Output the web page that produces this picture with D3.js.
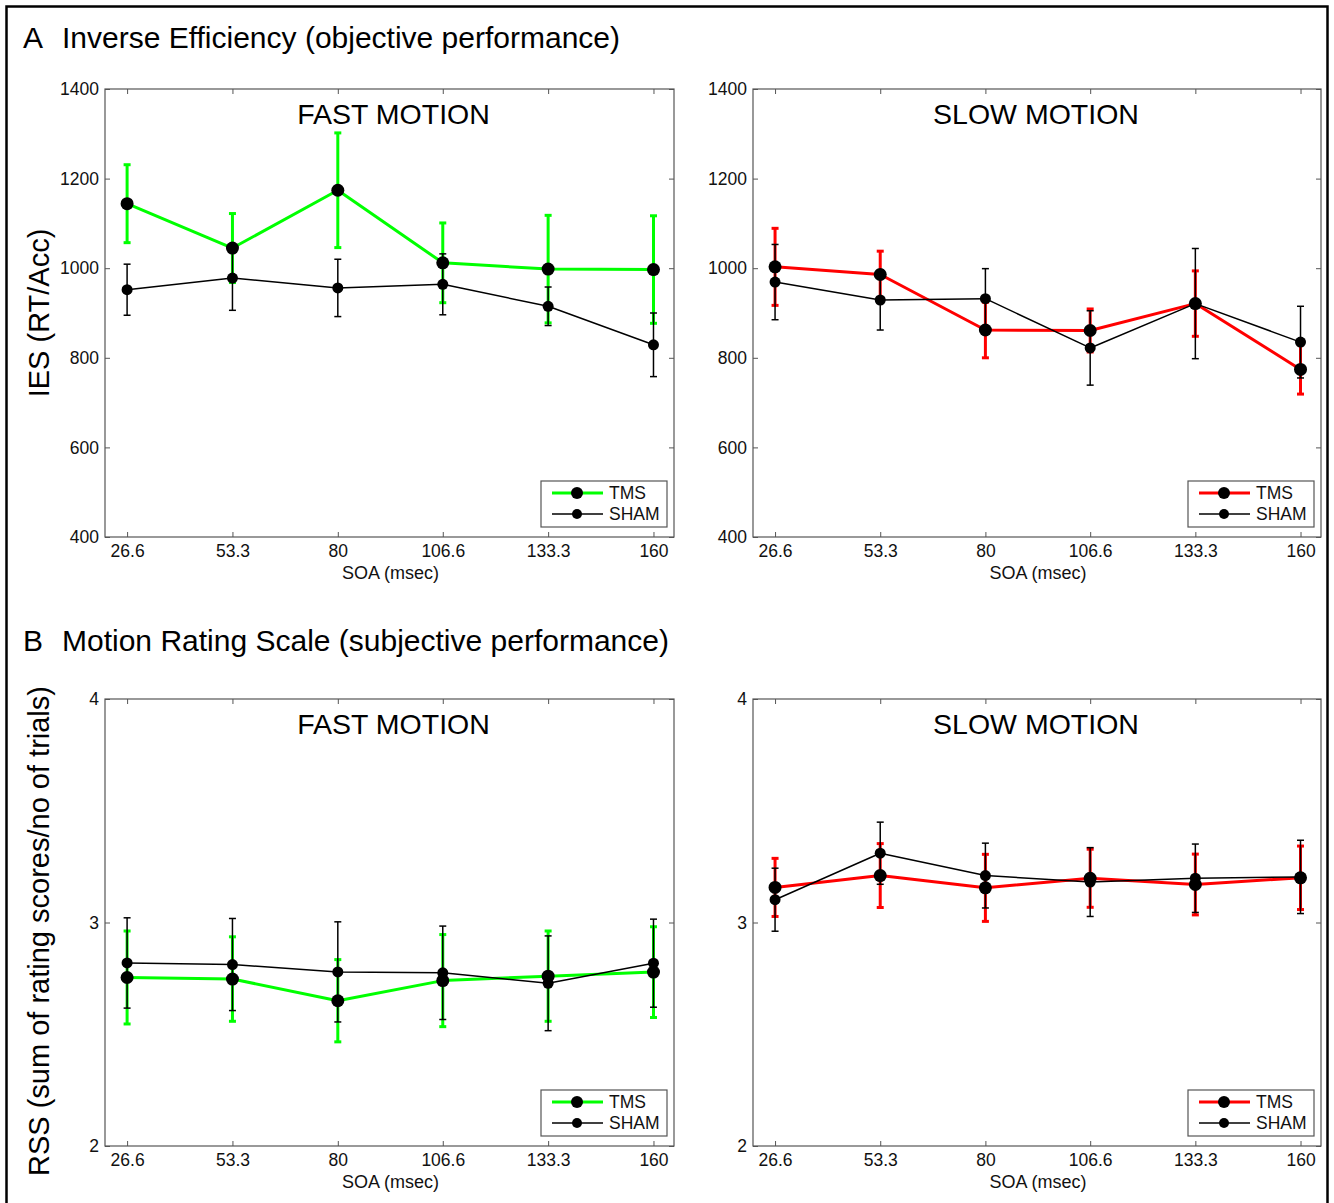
<!DOCTYPE html>
<html>
<head>
<meta charset="utf-8">
<script src="https://cdn.jsdelivr.net/npm/d3@7"></script>
<style>
  html, body { margin: 0; padding: 0; background: #fff; }
  svg { display: block; font-family: "Liberation Sans", Arial, Helvetica, sans-serif; }
</style>
</head>
<body>
<svg id="fig" width="1334" height="1203"></svg>
<script>
// Stimulus onset asynchrony conditions (msec)
const soa = [26.6, 53.3, 80, 106.6, 133.3, 160];
const soaLabels = ["26.6", "53.3", "80", "106.6", "133.3", "160"];

// Inverse efficiency (RT/Acc), means and error half-widths
const iesFastTms      = [1144, 1045, 1174, 1012, 998, 997];
const iesFastTmsErr   = [87, 77, 128, 89, 120, 120];
const iesFastSham     = [952, 978, 956, 964, 915, 829];
const iesFastShamErr  = [57, 72, 64, 68, 43, 71];
const iesSlowTms      = [1003, 986, 862, 861, 921, 774];
const iesSlowTmsErr   = [86, 52, 62, 48, 73, 55];
const iesSlowSham     = [969, 929, 932, 822, 921, 835];
const iesSlowShamErr  = [84, 67, 67, 83, 123, 80];

// Motion rating scale scores, means and error half-widths
const rssFastTms      = [2.754, 2.747, 2.650, 2.740, 2.760, 2.778];
const rssFastTmsErr   = [0.208, 0.189, 0.184, 0.206, 0.202, 0.203];
const rssFastSham     = [2.819, 2.812, 2.779, 2.775, 2.728, 2.818];
const rssFastShamErr  = [0.202, 0.206, 0.224, 0.209, 0.212, 0.197];
const rssSlowTms      = [3.157, 3.210, 3.155, 3.198, 3.170, 3.200];
const rssSlowTmsErr   = [0.130, 0.143, 0.150, 0.130, 0.136, 0.142];
const rssSlowSham     = [3.102, 3.310, 3.210, 3.181, 3.198, 3.204];
const rssSlowShamErr  = [0.141, 0.139, 0.145, 0.154, 0.153, 0.164];

// Axis ticks
const iesTicks = [400, 600, 800, 1000, 1200, 1400];
const rssTicks = [2, 3, 4];

// Series labels and colours
const seriesNames = ["TMS", "SHAM"];
const fastColor = "#00ff00";
const slowColor = "#ff0000";
const shamColor = "#000000";

const svg = d3.select("#fig");
const FONT = "'Liberation Sans', Arial, Helvetica, sans-serif";
const AXIS_GREY = "#555";

// Outer figure frame
svg.append("rect")
  .attr("x", 6.5).attr("y", 6.5)
  .attr("width", 1321).attr("height", 1220)
  .attr("fill", "none").attr("stroke", "#000").attr("stroke-width", 2.5);

// Section headings
function heading(letter, text, baseline) {
  svg.append("text").attr("x", 23).attr("y", baseline)
    .attr("font-size", 30).attr("fill", "#000").text(letter);
  svg.append("text").attr("x", 62).attr("y", baseline)
    .attr("font-size", 30).attr("fill", "#000").text(text);
}
heading("A", "Inverse Efficiency (objective performance)", 48);
heading("B", "Motion Rating Scale (subjective performance)", 651);

// Rotated y-axis titles
function yTitle(text, cy) {
  svg.append("text")
    .attr("transform", `translate(49,${cy}) rotate(-90)`)
    .attr("text-anchor", "middle")
    .attr("font-size", 29).attr("fill", "#000").text(text);
}
yTitle("IES (RT/Acc)", 313);
yTitle("RSS (sum of rating scores/no of trials)", 931);

function zip(means, errs) {
  return soa.map((s, i) => ({ x: s, y: means[i], e: errs[i] }));
}

function panel(opts) {
  const { left, top, width, height, yDomain, yTicks, title, titleDx, series } = opts;
  const g = svg.append("g").attr("transform", `translate(${left},${top})`);
  const x = d3.scaleLinear().domain([21, 165.2]).range([0, width]);
  const y = d3.scaleLinear().domain(yDomain).range([height, 0]);

  // Axes box with inward ticks on all sides
  const tk = 5;
  const bottomAx = d3.axisBottom(x).tickValues(soa)
    .tickFormat((d, i) => soaLabels[i]).tickSizeInner(-tk).tickSizeOuter(0).tickPadding(8);
  const topAx = d3.axisTop(x).tickValues(soa).tickFormat("").tickSizeInner(-tk).tickSizeOuter(0);
  const leftAx = d3.axisLeft(y).tickValues(yTicks).tickFormat(d3.format("d"))
    .tickSizeInner(-tk).tickSizeOuter(0).tickPadding(6);
  const rightAx = d3.axisRight(y).tickValues(yTicks).tickFormat("").tickSizeInner(-tk).tickSizeOuter(0);

  const gb = g.append("g").attr("transform", `translate(0,${height})`).call(bottomAx);
  const gt = g.append("g").call(topAx);
  const gl = g.append("g").call(leftAx);
  const gr = g.append("g").attr("transform", `translate(${width},0)`).call(rightAx);
  [gb, gt, gl, gr].forEach(a => {
    a.select(".domain").remove();
    a.selectAll(".tick line").attr("stroke", AXIS_GREY).attr("stroke-width", 1);
    a.selectAll(".tick text").attr("font-family", FONT).attr("font-size", 17.5).attr("fill", "#111");
  });
  g.append("rect").attr("x", 0).attr("y", 0).attr("width", width).attr("height", height)
    .attr("fill", "none").attr("stroke", AXIS_GREY).attr("stroke-width", 1.2);

  // Panel title
  g.append("text").attr("x", width / 2 + titleDx).attr("y", 35)
    .attr("text-anchor", "middle").attr("font-size", 28.5).attr("fill", "#000").text(title);

  // x-axis title
  g.append("text").attr("x", width / 2 + 1).attr("y", height + 42)
    .attr("text-anchor", "middle").attr("font-size", 18).attr("fill", "#111").text("SOA (msec)");

  // Data series: error bars, connecting line, markers
  const line = d3.line().x(d => x(d.x)).y(d => y(d.y));
  series.forEach(s => {
    const sg = g.append("g");
    const cap = 3.5;
    const eb = sg.selectAll("g.eb").data(s.data).join("g");
    eb.append("line")
      .attr("x1", d => x(d.x)).attr("x2", d => x(d.x))
      .attr("y1", d => y(d.y - d.e)).attr("y2", d => y(d.y + d.e))
      .attr("stroke", s.color).attr("stroke-width", s.width);
    [1, -1].forEach(sign => {
      eb.append("line")
        .attr("x1", d => x(d.x) - cap).attr("x2", d => x(d.x) + cap)
        .attr("y1", d => y(d.y + sign * d.e)).attr("y2", d => y(d.y + sign * d.e))
        .attr("stroke", s.color).attr("stroke-width", s.width);
    });
    sg.append("path").datum(s.data).attr("d", line)
      .attr("fill", "none").attr("stroke", s.color).attr("stroke-width", s.width)
      .attr("stroke-linejoin", "round");
    sg.selectAll("circle").data(s.data).join("circle")
      .attr("cx", d => x(d.x)).attr("cy", d => y(d.y)).attr("r", s.r)
      .attr("fill", "#000");
  });

  // Legend
  const lw = 126, lh = 46;
  const lg = g.append("g").attr("transform", `translate(${width - 7 - lw},${height - 10 - lh})`);
  lg.append("rect").attr("width", lw).attr("height", lh)
    .attr("fill", "#fff").attr("stroke", AXIS_GREY).attr("stroke-width", 1.2);
  series.forEach((s, i) => {
    const ry = 12 + i * 21;
    lg.append("line").attr("x1", 11).attr("x2", 62).attr("y1", ry).attr("y2", ry)
      .attr("stroke", s.color).attr("stroke-width", s.width);
    lg.append("circle").attr("cx", 36).attr("cy", ry).attr("r", s.r - 0.5).attr("fill", "#000");
    lg.append("text").attr("x", 68).attr("y", ry + 6)
      .attr("font-size", 17.5).attr("fill", "#111").text(s.name);
  });
}

const W = 569, H = 448;
function seriesPair(tmsColor, tms, tmsErr, sham, shamErr) {
  return [
    { name: seriesNames[0], color: tmsColor, width: 3, r: 6.5, data: zip(tms, tmsErr) },
    { name: seriesNames[1], color: shamColor, width: 1.5, r: 5.5, data: zip(sham, shamErr) }
  ];
}

panel({ left: 105, top: 89, width: W, height: H, yDomain: [400, 1400], yTicks: iesTicks, titleDx: 4,
  title: "FAST MOTION", series: seriesPair(fastColor, iesFastTms, iesFastTmsErr, iesFastSham, iesFastShamErr) });
panel({ left: 753, top: 89, width: W - 1, height: H, yDomain: [400, 1400], yTicks: iesTicks, titleDx: -1,
  title: "SLOW MOTION", series: seriesPair(slowColor, iesSlowTms, iesSlowTmsErr, iesSlowSham, iesSlowShamErr) });
panel({ left: 105, top: 699, width: W, height: 447, yDomain: [2, 4], yTicks: rssTicks, titleDx: 4,
  title: "FAST MOTION", series: seriesPair(fastColor, rssFastTms, rssFastTmsErr, rssFastSham, rssFastShamErr) });
panel({ left: 753, top: 699, width: W - 1, height: 447, yDomain: [2, 4], yTicks: rssTicks, titleDx: -1,
  title: "SLOW MOTION", series: seriesPair(slowColor, rssSlowTms, rssSlowTmsErr, rssSlowSham, rssSlowShamErr) });
</script>
</body>
</html>
